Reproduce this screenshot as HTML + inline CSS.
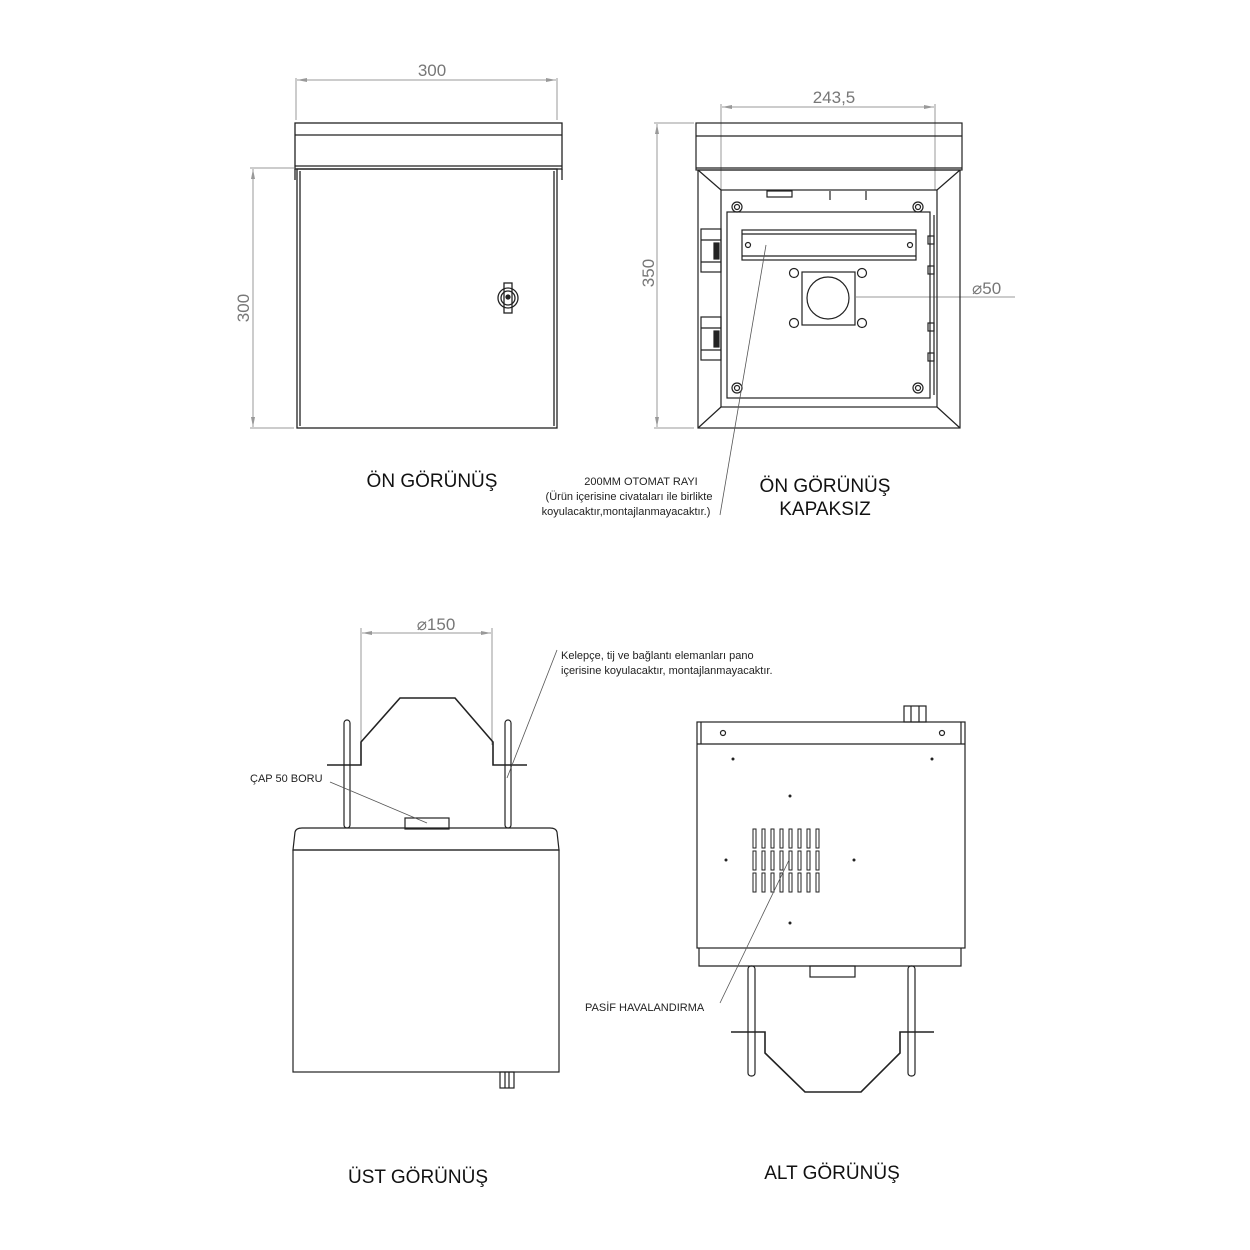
<!DOCTYPE html>
<html><head><meta charset="utf-8"><style>
html,body{margin:0;padding:0;background:#fff;}
svg{display:block;}
text{font-family:"Liberation Sans",sans-serif;}
</style></head><body>
<svg width="1250" height="1250" viewBox="0 0 1250 1250" xmlns="http://www.w3.org/2000/svg">
<defs>
<marker id="ar" viewBox="0 0 10 4" refX="10" refY="2" markerWidth="10" markerHeight="4" orient="auto-start-reverse" markerUnits="userSpaceOnUse"><path d="M0,0 L10,2 L0,4 Z" fill="#999"/></marker>
</defs>
<rect width="1250" height="1250" fill="#fff"/>

<!-- ===== FRONT VIEW 1 ===== -->
<g stroke="#999" stroke-width="1" fill="none">
<line x1="296" y1="78" x2="296" y2="120"/><line x1="557" y1="78" x2="557" y2="120"/>
<line x1="297" y1="80" x2="556" y2="80" marker-start="url(#ar)" marker-end="url(#ar)"/>
<line x1="250" y1="168" x2="294" y2="168"/><line x1="250" y1="428" x2="294" y2="428"/>
<line x1="253" y1="169" x2="253" y2="427" marker-start="url(#ar)" marker-end="url(#ar)"/>
</g>
<text x="432" y="76" font-size="17" fill="#777" text-anchor="middle">300</text>
<text transform="translate(249,308) rotate(-90)" font-size="17" fill="#777" text-anchor="middle">300</text>
<g stroke="#222" stroke-width="1.3" fill="none">
<rect x="295" y="123" width="267" height="46"/>
<line x1="295" y1="135" x2="562" y2="135"/>
<line x1="295" y1="166" x2="562" y2="166"/>
<rect x="297" y="169" width="260" height="259"/>
<line x1="300" y1="171" x2="300" y2="426"/><line x1="554" y1="171" x2="554" y2="426"/>
<line x1="295" y1="169" x2="295" y2="180"/><line x1="562" y1="169" x2="562" y2="180"/>
<circle cx="508" cy="298" r="10"/><circle cx="508" cy="298" r="7"/>
<rect x="504" y="283" width="8" height="30"/>
<circle cx="508" cy="297" r="2" fill="#222"/>
</g>

<!-- ===== FRONT VIEW 2 ===== -->
<g stroke="#999" stroke-width="1" fill="none">
<line x1="721" y1="104" x2="721" y2="190"/><line x1="935" y1="104" x2="935" y2="190"/>
<line x1="722" y1="107" x2="934" y2="107" marker-start="url(#ar)" marker-end="url(#ar)"/>
<line x1="654" y1="123" x2="694" y2="123"/><line x1="654" y1="428" x2="694" y2="428"/>
<line x1="657" y1="124" x2="657" y2="427" marker-start="url(#ar)" marker-end="url(#ar)"/>
<line x1="856" y1="297" x2="1015" y2="297"/>
</g>
<text x="834" y="103" font-size="17" fill="#777" text-anchor="middle">243,5</text>
<text transform="translate(654,273) rotate(-90)" font-size="17" fill="#777" text-anchor="middle">350</text>
<text x="972" y="294" font-size="17" fill="#777">⌀50</text>
<g stroke="#222" stroke-width="1.2" fill="none">
<rect x="696" y="123" width="266" height="47"/>
<line x1="696" y1="136" x2="962" y2="136"/>
<line x1="696" y1="168" x2="962" y2="168"/>
<rect x="698" y="170" width="262" height="258"/>
<line x1="698" y1="170" x2="721" y2="190"/><line x1="960" y1="170" x2="937" y2="190"/>
<line x1="698" y1="428" x2="721" y2="407"/><line x1="960" y1="428" x2="937" y2="407"/>
<rect x="721" y="190" width="216" height="217"/>
<rect x="727" y="212" width="203" height="186"/>
<rect x="742" y="230" width="174" height="30"/>
<line x1="742" y1="234" x2="916" y2="234"/><line x1="742" y1="256" x2="916" y2="256"/>
<circle cx="748" cy="245" r="2.5"/><circle cx="910" cy="245" r="2.5"/>
<rect x="802" y="272" width="53" height="53"/>
<circle cx="828" cy="298" r="21"/>
<circle cx="794" cy="273" r="4.5"/><circle cx="862" cy="273" r="4.5"/>
<circle cx="794" cy="323" r="4.5"/><circle cx="862" cy="323" r="4.5"/>
<circle cx="737" cy="207" r="5"/><circle cx="737" cy="207" r="2.5"/>
<circle cx="918" cy="207" r="5"/><circle cx="918" cy="207" r="2.5"/>
<circle cx="737" cy="388" r="5"/><circle cx="737" cy="388" r="2.5"/>
<circle cx="918" cy="388" r="5"/><circle cx="918" cy="388" r="2.5"/>
<rect x="767" y="191" width="25" height="6"/>
<line x1="830" y1="191" x2="830" y2="200"/><line x1="866" y1="191" x2="866" y2="200"/>
<rect x="701" y="229" width="20" height="43"/><rect x="701" y="317" width="20" height="43"/>
<line x1="701" y1="240" x2="721" y2="240"/><line x1="701" y1="262" x2="721" y2="262"/>
<line x1="701" y1="328" x2="721" y2="328"/><line x1="701" y1="350" x2="721" y2="350"/>
<rect x="714" y="243" width="5" height="16" fill="#222"/><rect x="714" y="331" width="5" height="16" fill="#222"/>
<line x1="934" y1="215" x2="934" y2="395"/>
<rect x="928" y="236" width="6" height="8"/><rect x="928" y="266" width="6" height="8"/>
<rect x="928" y="323" width="6" height="8"/><rect x="928" y="353" width="6" height="8"/>
</g>
<line x1="766" y1="245" x2="720" y2="515" stroke="#555" stroke-width="0.8"/>

<text x="641" y="485" font-size="11" fill="#222" text-anchor="middle">200MM OTOMAT RAYI</text>
<text x="629" y="500" font-size="11" fill="#222" text-anchor="middle">(Ürün içerisine civataları ile birlikte</text>
<text x="626" y="515" font-size="11" fill="#222" text-anchor="middle">koyulacaktır,montajlanmayacaktır.)</text>
<text x="432" y="487" font-size="19" fill="#111" text-anchor="middle">ÖN GÖRÜNÜŞ</text>
<text x="825" y="492" font-size="19" fill="#111" text-anchor="middle">ÖN GÖRÜNÜŞ</text>
<text x="825" y="515" font-size="19" fill="#111" text-anchor="middle">KAPAKSIZ</text>

<!-- ===== TOP VIEW ===== -->
<g stroke="#999" stroke-width="1" fill="none">
<line x1="361" y1="628" x2="361" y2="745"/><line x1="492" y1="628" x2="492" y2="745"/>
<line x1="362" y1="633" x2="491" y2="633" marker-start="url(#ar)" marker-end="url(#ar)"/>
</g>
<text x="436" y="630" font-size="17" fill="#777" text-anchor="middle">⌀150</text>
<g stroke="#222" stroke-width="1.2" fill="none">
<rect x="344" y="720" width="6" height="108" rx="3"/>
<rect x="505" y="720" width="6" height="108" rx="3"/>
<polyline points="327,765 361,765 361,742 400,698 455,698 493,742 493,765 527,765" stroke-width="1.6"/>
<rect x="405" y="818" width="44" height="11"/>
<path d="M293,850 L295,832 Q296,828 302,828 L550,828 Q556,828 557,832 L559,850 Z"/>
<rect x="293" y="850" width="266" height="222"/>
<rect x="500" y="1072" width="14" height="16"/>
<line x1="505" y1="1072" x2="505" y2="1088"/><line x1="509" y1="1072" x2="509" y2="1088"/>
</g>
<line x1="330" y1="782" x2="427" y2="823" stroke="#555" stroke-width="0.8"/>
<line x1="557" y1="650" x2="507" y2="778" stroke="#555" stroke-width="0.8"/>
<text x="250" y="782" font-size="11" fill="#222">ÇAP 50 BORU</text>
<text x="561" y="659" font-size="11" fill="#222">Kelepçe, tij ve bağlantı elemanları pano</text>
<text x="561" y="674" font-size="11" fill="#222">içerisine koyulacaktır, montajlanmayacaktır.</text>
<text x="418" y="1183" font-size="19" fill="#111" text-anchor="middle">ÜST GÖRÜNÜŞ</text>

<!-- ===== BOTTOM VIEW ===== -->
<g stroke="#222" stroke-width="1.2" fill="none">
<rect x="904" y="706" width="22" height="16"/>
<line x1="911" y1="706" x2="911" y2="722"/><line x1="919" y1="706" x2="919" y2="722"/>
<rect x="697" y="722" width="268" height="226"/>
<line x1="697" y1="744" x2="965" y2="744"/>
<line x1="701" y1="722" x2="701" y2="744"/><line x1="961" y1="722" x2="961" y2="744"/>
<circle cx="723" cy="733" r="2.5"/><circle cx="942" cy="733" r="2.5"/>
<path d="M699,948 L699,966 L961,966 L961,948"/>
<rect x="810" y="966" width="45" height="11"/>
<rect x="748" y="966" width="7" height="110" rx="3"/>
<rect x="908" y="966" width="7" height="110" rx="3"/>
<polyline points="731,1032 765,1032 765,1053 805,1092 861,1092 900,1053 900,1032 934,1032" stroke-width="1.6"/>
</g>
<g stroke="#222" stroke-width="1" fill="none">
<rect x="753" y="829" width="3" height="19"/><rect x="762" y="829" width="3" height="19"/><rect x="771" y="829" width="3" height="19"/><rect x="780" y="829" width="3" height="19"/><rect x="789" y="829" width="3" height="19"/><rect x="798" y="829" width="3" height="19"/><rect x="807" y="829" width="3" height="19"/><rect x="816" y="829" width="3" height="19"/>
<rect x="753" y="851" width="3" height="19"/><rect x="762" y="851" width="3" height="19"/><rect x="771" y="851" width="3" height="19"/><rect x="780" y="851" width="3" height="19"/><rect x="789" y="851" width="3" height="19"/><rect x="798" y="851" width="3" height="19"/><rect x="807" y="851" width="3" height="19"/><rect x="816" y="851" width="3" height="19"/>
<rect x="753" y="873" width="3" height="19"/><rect x="762" y="873" width="3" height="19"/><rect x="771" y="873" width="3" height="19"/><rect x="780" y="873" width="3" height="19"/><rect x="789" y="873" width="3" height="19"/><rect x="798" y="873" width="3" height="19"/><rect x="807" y="873" width="3" height="19"/><rect x="816" y="873" width="3" height="19"/>
</g>
<g fill="#222">
<circle cx="733" cy="759" r="1.5"/><circle cx="932" cy="759" r="1.5"/><circle cx="790" cy="796" r="1.5"/>
<circle cx="726" cy="860" r="1.5"/><circle cx="854" cy="860" r="1.5"/><circle cx="790" cy="923" r="1.5"/>
</g>
<line x1="720" y1="1003" x2="789" y2="860" stroke="#555" stroke-width="0.8"/>
<text x="585" y="1011" font-size="11" fill="#222">PASİF HAVALANDIRMA</text>
<text x="832" y="1179" font-size="19" fill="#111" text-anchor="middle">ALT GÖRÜNÜŞ</text>
</svg>
</body></html>
